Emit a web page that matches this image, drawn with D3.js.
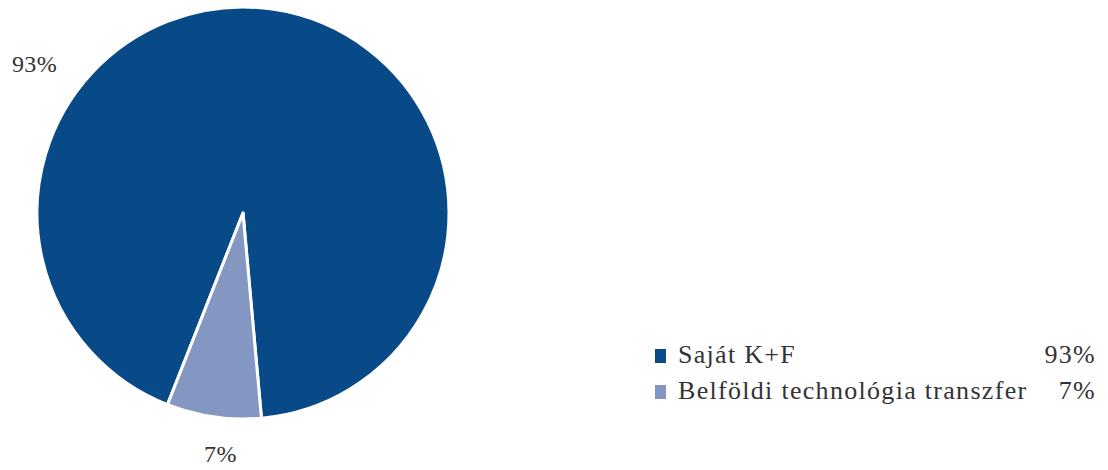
<!DOCTYPE html>
<html><head><meta charset="utf-8">
<script src="https://cdn.jsdelivr.net/npm/d3@7"></script>
<style>
html,body{margin:0;padding:0;background:#fff;}
svg{display:block;}
svg text{font-family:"Liberation Serif","Times New Roman",Times,serif;}
</style>
</head><body>
<svg id="chart" width="1108" height="470"></svg>
<script>
const categories = ["Saját K+F", "Belföldi technológia transzfer"];
const values = [92.6, 7.4];
const colors = ["#084a87", "#8497c2"];
const pctLabels = ["93%", "7%"];

const svg = d3.select("#chart");
const cx = 243, cy = 213, R = 206;
const textColor = "#333333";

const pie = d3.pie().sort(null).value(d => d)
  .startAngle(-158.5 * Math.PI / 180).endAngle((360 - 158.5) * Math.PI / 180);
const arcs = pie(values);
const arc = d3.arc().innerRadius(0).outerRadius(R);

const g = svg.append("g").attr("transform", `translate(${cx},${cy})`);
g.selectAll("path").data(arcs).enter().append("path")
  .attr("d", arc)
  .attr("fill", (d, i) => colors[i])
  .attr("stroke", "#fff")
  .attr("stroke-width", 3)
  .attr("stroke-linejoin", "round");

// data labels (placed as in original)
const labelPos = [[-208.5, -141], [-22.5, 249]];
svg.selectAll("text.dl").data(pctLabels).enter().append("text")
  .attr("class", "dl")
  .attr("x", (d, i) => cx + labelPos[i][0])
  .attr("y", (d, i) => cy + labelPos[i][1])
  .attr("text-anchor", "middle")
  .style("font-size", "24px")
  .style("letter-spacing", "0.4px")
  .attr("fill", textColor)
  .text(d => d);

// legend
const lg = svg.append("g").attr("transform", "translate(655,0)");
const rowY = [363, 399];
categories.forEach((c, i) => {
  lg.append("rect").attr("x", 0).attr("y", rowY[i] - 14).attr("width", 11).attr("height", 14)
    .attr("fill", colors[i]);
  lg.append("text").attr("x", 23).attr("y", rowY[i])
    .style("font-size", "26px").style("letter-spacing", "1.3px")
    .attr("fill", textColor)
    .text(c);
  lg.append("text").attr("x", 441).attr("y", rowY[i]).attr("text-anchor", "end")
    .style("font-size", "26px").style("letter-spacing", "1.3px")
    .attr("fill", textColor)
    .text(pctLabels[i]);
});
</script>
</body></html>
